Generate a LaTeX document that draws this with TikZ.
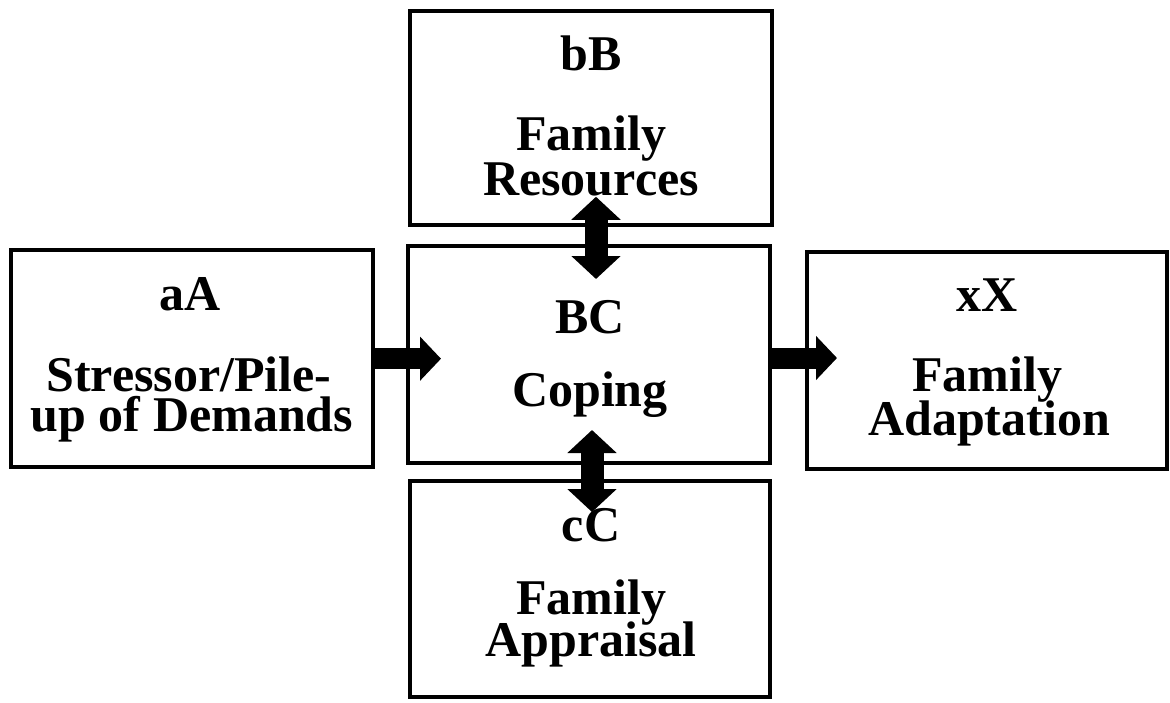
\documentclass[tikz,border=0pt]{standalone}
\usepackage{fontspec}
\setmainfont{Liberation Serif}
\usetikzlibrary{arrows.meta}
\begin{document}
\begin{tikzpicture}[x=1pt,y=-1pt]
\tikzset{
  box/.style={draw=black, line width=4pt, fill=none, inner sep=0pt, outer sep=0pt},
  lbl/.style={font=\fontsize{50}{50}\selectfont\bfseries, anchor=base, inner sep=0pt, outer sep=0pt},
  fatarrow/.style={line width=21pt, -{Triangle[width=43pt 0 0, length=21pt 0 0]}},
  dblarrow/.style={line width=23pt, {Triangle[width=48pt 0 0, length=23pt 0 0]}-{Triangle[width=48pt 0 0, length=23pt 0 0]}}
}
\useasboundingbox (0,0) rectangle (1170,702);
\fill[white] (0,0) rectangle (1170,702);
% boxes
\node[box, minimum width=362pt, minimum height=217.5pt] (A) at (192,358.7) {};
\node[box, minimum width=361.7pt, minimum height=213.7pt] (B) at (590.8,117.9) {};
\node[box, minimum width=362pt, minimum height=217.8pt] (C) at (589,354.4) {};
\node[box, minimum width=360pt, minimum height=217pt] (X) at (987,360) {};
\node[box, minimum width=360pt, minimum height=216.5pt] (D) at (590,588.8) {};
% connectors
\draw[fatarrow] (A.east) -- ([xshift=33pt]C.west |- A.east);
\draw[fatarrow] ([shift={(0,3.6)}]C.east) -- ([shift={(30,-2)}]X.west);
\draw[dblarrow] ([shift={(5.2,-28)}]B.south) -- ([shift={(7,33.5)}]C.north);
\draw[dblarrow] ([shift={(3,-33.3)}]C.south) -- ([shift={(2,31.5)}]D.north);
% texts
\node[lbl] (A1) at (190,310) {aA};
\node[lbl] (A2) at (189,391.7) {Stressor/Pile-};
\node[lbl] (A3) at (192,431.7) {up of Demands};
\node[lbl] (B1) at (591,70) {bB};
\node[lbl] (B2) at (591,150.7) {Family};
\node[lbl] (B3) at (591,195) {Resources};
\node[lbl] (C1) at (590,333.3) {BC};
\node[lbl] (C2) at (590,406.7) {Coping};
\node[lbl] (X1) at (987,311.7) {xX};
\node[lbl] (X2) at (987,391.7) {Family};
\node[lbl] (X3) at (989,435) {Adaptation};
\node[lbl] (D1) at (591,541.7) {cC};
\node[lbl] (D2) at (591,614) {Family};
\node[lbl] (D3) at (591,656.7) {Appraisal};
\end{tikzpicture}
\end{document}
